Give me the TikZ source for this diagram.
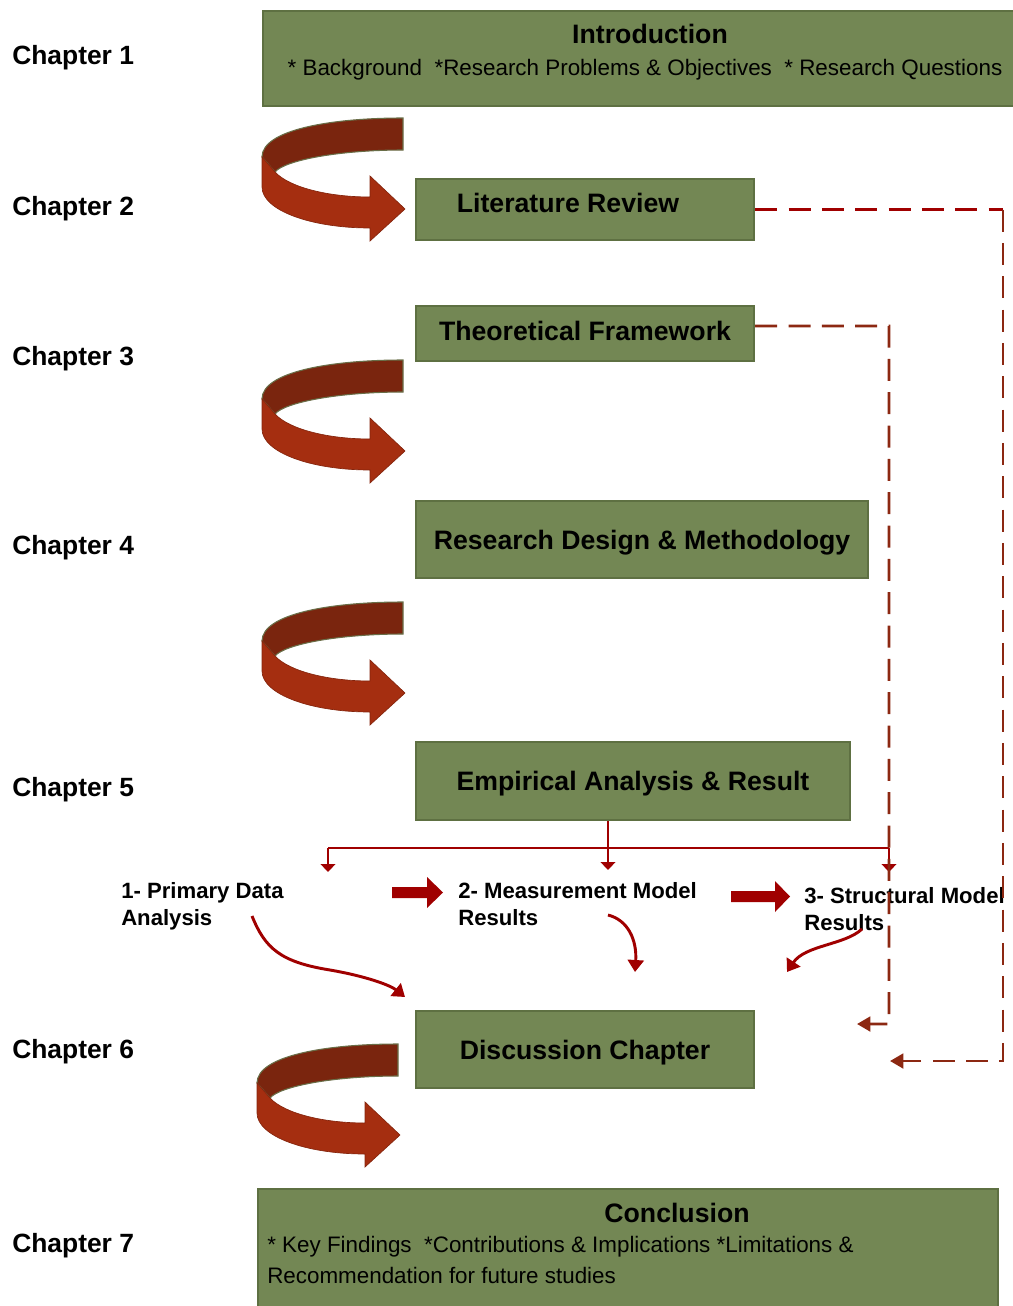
\documentclass[tikz,border=0pt]{standalone}
\usepackage{fontspec}
\setmainfont{Liberation Sans}
\usetikzlibrary{arrows.meta}
\definecolor{boxfill}{RGB}{115,135,84}
\definecolor{boxedge}{RGB}{94,112,66}
\definecolor{lnred}{RGB}{160,0,0}
\definecolor{dashbrown}{RGB}{140,40,18}
\definecolor{turndark}{RGB}{122,37,14}
\definecolor{turnlight}{RGB}{165,46,16}
\definecolor{turnedge}{RGB}{105,110,72}
\begin{document}
\begin{tikzpicture}[x=0.75pt,y=-0.75pt,
  box/.style={draw=boxedge, fill=boxfill, line width=1.8pt, inner sep=0pt,
    font=\fontsize{20}{24}\selectfont\bfseries, text height=14.3pt, text depth=0pt},
  chap/.style={anchor=west, inner sep=0pt, font=\fontsize{19.8}{24}\selectfont\bfseries,
    text height=14.2pt, text depth=0pt},
  boxtitle/.style={inner sep=0pt, font=\fontsize{20}{24}\selectfont\bfseries,
    text height=14.3pt, text depth=0pt},
  item/.style={anchor=north west, inner sep=0pt, align=left,
    font=\fontsize{16.6}{20.25}\selectfont\bfseries},
  plain/.style={inner sep=0pt, font=\fontsize{16.8}{20}\selectfont,
    text height=12pt, text depth=0pt},
  redln/.style={draw=lnred, line width=2pt},
  smalltip/.style={-{Triangle[width=11pt,length=6pt]}},
  curvln/.style={draw=lnred, line width=2.2pt, -{Triangle[width=12pt,length=9pt]}},
  dashln/.style={line width=2.1pt, dash pattern=on 16.5pt off 8.5pt},
  dashtip/.style={-{Triangle[width=11pt,length=10pt]}},
  turn/.pic={
    \filldraw[fill=turndark, draw=turnedge, line width=0.8pt]
      (141,0) -- (141,32) .. controls (78,32) and (23,42) .. (13,54)
      -- (0,39) .. controls (0,12) and (68,0) .. (141,0) -- cycle;
    \filldraw[fill=turnlight, draw=turnlight!80!black, line width=0.5pt]
      (0,39) -- (13,54) .. controls (28,70) and (68,79) .. (108,79)
      -- (108,58) -- (143,91) -- (108,123) -- (108,110)
      .. controls (48,110) and (0,92) .. (0,69) -- cycle;
  }
]
\useasboundingbox (0,0) rectangle (1013,1306);

% chapter labels
\node[chap] (ch1) at (12,55.5) {Chapter 1};
\node[chap] (ch2) at (12,206) {Chapter 2};
\node[chap] (ch3) at (12,356) {Chapter 3};
\node[chap] (ch4) at (12,545) {Chapter 4};
\node[chap] (ch5) at (12,787) {Chapter 5};
\node[chap] (ch6) at (12,1049) {Chapter 6};
\node[chap] (ch7) at (12,1243) {Chapter 7};

% boxes
\node[box, anchor=north west, minimum width=565.5pt, minimum height=71.25pt] (intro) at (262,10) {};
\node[boxtitle] (introt) at (650,34) {Introduction};
\node[plain] (introl) at (645,68) {* Background\ \ *Research Problems \& Objectives\ \ * Research Questions};

\node[box, minimum width=253.5pt, minimum height=45.75pt] (lit) at (585,209.5) {};
\node[boxtitle] (litt) at (568,203) {Literature Review};

\node[box, minimum width=253.5pt, minimum height=41.25pt, text depth=4.5pt] (theo) at (585,333.5) {Theoretical Framework};
\node[box, minimum width=339pt, minimum height=57.75pt] (rdm) at (642,539.5) {Research Design \& Methodology};
\node[box, minimum width=325.5pt, minimum height=58.5pt] (emp) at (633,781) {Empirical Analysis \& Result};
\node[box, minimum width=253.5pt, minimum height=57.75pt] (disc) at (585,1049.5) {Discussion Chapter};

\node[box, anchor=north west, minimum width=555pt, minimum height=96pt] (concl) at (257,1188) {};
\node[boxtitle] (conclt) at (677,1213) {Conclusion};
\node[plain, anchor=west] (concl1) at (267,1244) {* Key Findings\ \ *Contributions \& Implications *Limitations \&};
\node[plain, anchor=west] (concl2) at (267,1275) {Recommendation for future studies};

% turning arrows
\pic at (262,118) {turn};
\pic at (262,360) {turn};
\pic at (262,602) {turn};
\pic at (257,1044) {turn};

% result items
\node[item] (p1) at (121,882) {1- Primary Data\\Analysis};
\node[item] (p2) at (458,882) {2- Measurement Model\\Results};
\node[item] (p3) at (804,887) {3- Structural Model\\Results};

% block arrows between items
\fill[lnred] (392,887) -- (427,887) -- (427,877) -- (443,892.5) -- (427,908) -- (427,898) -- (392,898) -- cycle;
\fill[lnred] (731,891) -- (775,891) -- (775,881) -- (790,896.5) -- (775,912) -- (775,902) -- (731,902) -- cycle;

% red branching
\coordinate (e1) at (608,848);
\coordinate (bl) at (328,848);
\coordinate (brr) at (889,848);
\coordinate (t1) at (328,872);
\coordinate (t2) at (608,870);
\coordinate (t3) at (889,872);
\draw[redln] (bl) -- (brr);
\draw[redln, smalltip] (emp.south -| e1) -- (t2);
\draw[redln, smalltip] (bl) -- (t1);
\draw[redln, smalltip] (brr) -- (t3);

% curved arrows to discussion
\coordinate (c1s) at (252,916);
\coordinate (c1m) at (330,970);
\coordinate (c1e) at (405,997);
\draw[curvln] (c1s) .. controls (265,948) and (280,962) .. (c1m)
  .. controls (365,976) and (390,985) .. (c1e);
\coordinate (c2s) at (608,915);
\coordinate (c2e) at (635,972);
\draw[curvln] (c2s) .. controls (628,920) and (637,940) .. (c2e);
\coordinate (c3s) at (862,929);
\coordinate (c3e) at (787,972);
\draw[curvln] (c3s) .. controls (845,945) and (805,945) .. (c3e);

% dashed feedback lines
\coordinate (litc) at (1003,209.5);
\coordinate (litd) at (1003,1061);
\coordinate (littip) at (890,1061);
\draw[dashln, draw=lnred] (lit.east) -- (litc);
\draw[dashln, draw=dashbrown, dashtip] (litc) -- (litd) -- (littip);
\coordinate (theoc) at (889,326);
\coordinate (theod) at (889,1024);
\coordinate (theotip) at (857,1024);
\draw[dashln, draw=dashbrown, dashtip] ([yshift=5.6pt]theo.east) -- (theoc) -- (theod) -- (theotip);
\end{tikzpicture}
\end{document}
